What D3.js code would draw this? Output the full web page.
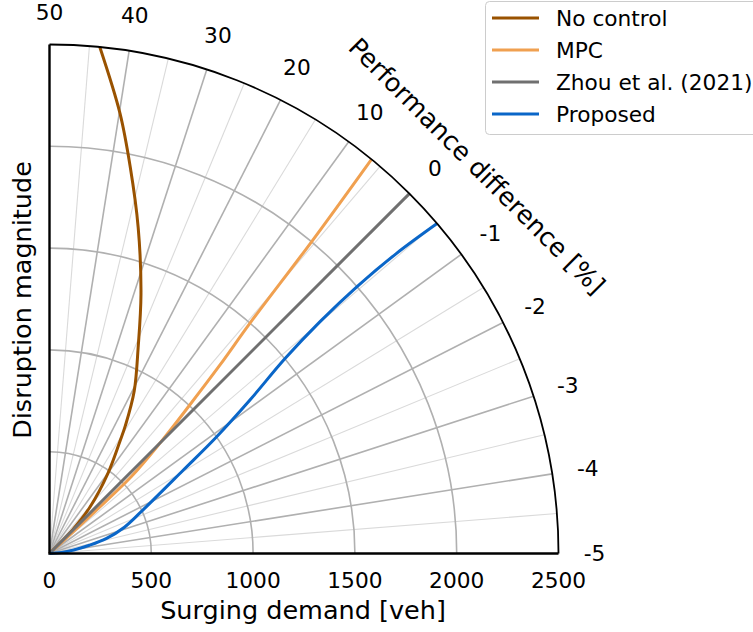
<!DOCTYPE html>
<html>
<head>
<meta charset="utf-8">
<script src="https://cdn.jsdelivr.net/npm/d3@7"></script>
<style>
  body { margin: 0; background: #fff; }
  text { font-family: "DejaVu Sans", sans-serif; fill: #000; }
</style>
</head>
<body>
<div id="chart"></div>
<script>
// series: [surging demand, performance difference %]
let noControl = [[0, 0], [160, 0.8], [300, 4.3], [490, 10], [650, 14.3], [730, 15.9], [900, 19.4], [1100, 24.1], [1350, 28.4], [1660, 33.1], [1940, 36.9], [2190, 39.9], [2500, 43.7]];
let mpc = [[0, -0.2], [300, -0.25], [550, -0.2], [770, 0], [1000, 1.8], [1250, 3.2], [1500, 4.4], [2000, 5.5], [2500, 6.4]];
let zhou = [[0, 0], [2500, 0]];
let proposed = [[0, -4.6], [60, -4.45], [120, -4.07], [200, -3.7], [290, -3.35], [390, -2.85], [490, -2.3], [775, -1.45], [1000, -1.12], [1240, -0.84], [1500, -0.6], [1750, -0.49], [2000, -0.45], [2250, -0.46], [2500, -0.51]];

let seriesNames = ["No control", "MPC", "Zhou et al. (2021)", "Proposed"];
let seriesColors = ["#995200", "#f0a050", "#707070", "#0a66c8"];
let seriesData = [noControl, mpc, zhou, proposed];

let radialTicks = [0, 500, 1000, 1500, 2000, 2500];
let angleTicks = [-5, -4, -3, -2, -1, 0, 10, 20, 30, 40, 50];

const w = 753, h = 632;
const cx = 49.5, cy = 553.5, R = 509;

const svg = d3.select("#chart")
              .append("svg")
              .attr("width", w)
              .attr("height", h);

const rScale = d3.scaleLinear().domain([0, 2500]).range([0, R]);
// piecewise angle: -5..0 over the first 45 deg, 0..50 over the next 45
const aScale = d3.scaleLinear().domain([-5, 0, 50]).range([0, Math.PI / 4, Math.PI / 2]);

const px = (r, a) => cx + r * Math.cos(a);
const py = (r, a) => cy - r * Math.sin(a);

// minor angular gridlines halfway between labelled ones
for (let i = 0; i < angleTicks.length - 1; i++) {
    let a = (aScale(angleTicks[i]) + aScale(angleTicks[i + 1])) / 2;
    svg.append("line")
       .attr("x1", cx).attr("y1", cy)
       .attr("x2", px(R, a)).attr("y2", py(R, a))
       .attr("stroke", "#dadada")
       .attr("stroke-width", 1.1);
}

angleTicks.slice(1, -1).forEach(t => {
    let a = aScale(t);
    svg.append("line")
       .attr("x1", cx).attr("y1", cy)
       .attr("x2", px(R, a)).attr("y2", py(R, a))
       .attr("stroke", "#b0b0b0")
       .attr("stroke-width", 1.6);
});

const arc = d3.arc().startAngle(0).endAngle(Math.PI / 2);

radialTicks.slice(1, -1).forEach(t => {
    svg.append("path")
       .attr("transform", `translate(${cx},${cy})`)
       .attr("d", arc({innerRadius: rScale(t), outerRadius: rScale(t)}))
       .attr("fill", "none")
       .attr("stroke", "#b0b0b0")
       .attr("stroke-width", 1.6);
});

// curves
const line = d3.line()
               .x(d => px(rScale(d[0]), aScale(d[1])))
               .y(d => py(rScale(d[0]), aScale(d[1])))
               .curve(d3.curveCatmullRom.alpha(0.5));

seriesData.forEach((s, i) => {
    svg.append("path")
       .attr("d", line(s))
       .attr("fill", "none")
       .attr("stroke", seriesColors[i])
       .attr("stroke-width", 3);
});

// frame
svg.append("path")
   .attr("transform", `translate(${cx},${cy})`)
   .attr("d", arc({innerRadius: R, outerRadius: R}))
   .attr("fill", "none")
   .attr("stroke", "#000")
   .attr("stroke-width", 1.8);

svg.append("path")
   .attr("d", `M${cx},${cy - R}L${cx},${cy}L${cx + R},${cy}`)
   .attr("fill", "none")
   .attr("stroke", "#000")
   .attr("stroke-width", 2.4);

// radial tick labels
radialTicks.forEach(t => {
    svg.append("text")
       .attr("x", cx + rScale(t))
       .attr("y", cy + 34)
       .attr("text-anchor", "middle")
       .style("font-size", "21.7px")
       .text(t);
});

// angular tick labels
angleTicks.forEach(t => {
    let a = aScale(t);
    let rr = t === 50 ? R + 32 : R + 36;
    svg.append("text")
       .attr("x", px(rr, a))
       .attr("y", py(rr, a))
       .attr("text-anchor", "middle")
       .attr("dominant-baseline", "central")
       .style("font-size", "21.7px")
       .text(t);
});

// axis titles
svg.append("text")
   .attr("x", cx + R / 2 - 1)
   .attr("y", 619)
   .attr("text-anchor", "middle")
   .style("font-size", "25.5px")
   .text("Surging demand [veh]");

svg.append("text")
   .attr("transform", "translate(31, 300) rotate(-90)")
   .attr("text-anchor", "middle")
   .style("font-size", "25.5px")
   .text("Disruption magnitude");

svg.append("text")
   .attr("transform", "translate(477, 166) rotate(45)")
   .attr("text-anchor", "middle")
   .attr("dominant-baseline", "central")
   .style("font-size", "25.5px")
   .text("Performance difference [%]");

// legend
const legend = svg.append("g");
legend.append("rect")
      .attr("x", 485.5).attr("y", 1.5)
      .attr("width", 275).attr("height", 133)
      .attr("rx", 4)
      .attr("fill", "#fff")
      .attr("fill-opacity", 0.8)
      .attr("stroke", "#cccccc");

seriesNames.forEach((n, i) => {
    let y = 18 + i * 32;
    legend.append("line")
          .attr("x1", 492).attr("x2", 539)
          .attr("y1", y).attr("y2", y)
          .attr("stroke", seriesColors[i])
          .attr("stroke-width", 3);
    legend.append("text")
          .attr("x", 556)
          .attr("y", y)
          .attr("dominant-baseline", "central")
          .style("font-size", "21.7px")
          .text(n);
});
</script>
</body>
</html>
